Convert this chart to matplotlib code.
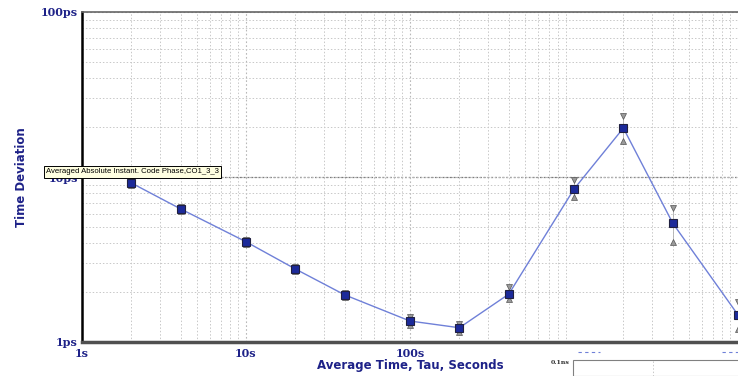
import matplotlib.pyplot as plt
from matplotlib.patches import Rectangle
from matplotlib.lines import Line2D

# averaging time (s) and time deviation (ps)
tau = [2, 4, 10, 20, 40, 100, 200, 400, 1000, 2000, 4000, 10000]
tdev = [9.2, 6.4, 4.05, 2.77, 1.93, 1.34, 1.22, 1.95, 8.45, 19.8, 5.25, 1.46]
tdev_hi = [9.4, 6.55, 4.15, 2.83, 1.98, 1.42, 1.28, 2.15, 9.6, 23.4, 6.5, 1.75]
tdev_lo = [9.0, 6.25, 3.95, 2.71, 1.88, 1.27, 1.15, 1.82, 7.55, 16.5, 4.05, 1.2]

yticks = [1, 10, 100]
ytick_labels = ["1ps", "10ps", "100ps"]
xticks = [1, 10, 100]
xtick_labels = ["1s", "10s", "100s"]

NAVY = "#1e2288"

fig = plt.figure(figsize=(7.38, 3.76), dpi=100)
ax = fig.add_axes([82 / 738, 34 / 376, 656 / 738, 330 / 376])

ax.set_xscale("log")
ax.set_yscale("log")
ax.set_xlim(1, 10000)
ax.set_ylim(1, 100)

# grid
ax.grid(which="major", color="#b8b8b8", linestyle=(0, (1.5, 2)), linewidth=0.8)
ax.grid(which="minor", color="#c8c8c8", linestyle=(0, (1.5, 2)), linewidth=0.7)
ax.axhline(10, color="#7a7a7a", linestyle=(0, (1.5, 1.5)), linewidth=0.9, zorder=1)

# error range
ax.vlines(tau, tdev_lo, tdev_hi, color="#b0b0b0", linewidth=0.6, zorder=2)
ax.plot(tau, tdev_hi, linestyle="none", marker="v", markersize=4.5,
        markerfacecolor="#9a9a9a", markeredgecolor="#555555", markeredgewidth=0.5,
        zorder=3, clip_on=False)
ax.plot(tau, tdev_lo, linestyle="none", marker="^", markersize=4.5,
        markerfacecolor="#9a9a9a", markeredgecolor="#555555", markeredgewidth=0.5,
        zorder=3, clip_on=False)

# main curve
ax.plot(tau, tdev, color="#6f80d8", linewidth=1.0, marker="s", markersize=6,
        markerfacecolor="#1c2a9a", markeredgecolor="#202040", markeredgewidth=0.8,
        zorder=4, clip_on=False)

# spines
ax.spines["right"].set_visible(False)
ax.spines["top"].set_color("#666666")
ax.spines["top"].set_linestyle((0, (2, 1)))
ax.spines["top"].set_linewidth(1.2)
ax.spines["left"].set_color("black")
ax.spines["left"].set_linewidth(1.8)
ax.spines["bottom"].set_color("#505050")
ax.spines["bottom"].set_linewidth(2.5)

ax.set_yticks(yticks)
ax.set_yticklabels(ytick_labels)
ax.set_xticks(xticks)
ax.set_xticklabels(xtick_labels)
ax.tick_params(which="both", length=0)
ax.tick_params(axis="y", pad=3)
ax.tick_params(axis="x", pad=4)
for lbl in ax.get_xticklabels() + ax.get_yticklabels():
    lbl.set_fontfamily("DejaVu Serif")
    lbl.set_fontweight("bold")
    lbl.set_fontsize(8)
    lbl.set_color(NAVY)

ax.set_xlabel("Average Time, Tau, Seconds", fontsize=8.5, fontweight="bold",
              color=NAVY, labelpad=0)
ax.set_ylabel("Time Deviation", fontsize=8.5, fontweight="bold",
              color=NAVY, labelpad=9)

# series tooltip
fig.text(46 / 738, 1 - 172 / 376, "Averaged Absolute Instant. Code Phase,CO1_3_3",
         family="Liberation Sans", fontsize=5.6, color="black", va="center", ha="left",
         bbox=dict(boxstyle="square,pad=0.3", facecolor="#ffffe1",
                   edgecolor="black", linewidth=0.7), zorder=10)

# neighbouring panel peeking in at the lower right
fig.patches.append(Rectangle((573 / 738, 0), 0.3, 16 / 376, transform=fig.transFigure,
                             facecolor="white", edgecolor="#808080", linewidth=0.8))
fig.lines.append(Line2D([653 / 738, 653 / 738], [0, 16 / 376], transform=fig.transFigure,
                        color="#c8c8c8", linestyle=(0, (1.5, 2)), linewidth=0.7))
fig.lines.append(Line2D([578 / 738, 600 / 738], [24 / 376, 24 / 376], transform=fig.transFigure,
                        color="#6f80d8", linestyle=(0, (3, 3)), linewidth=0.8))
fig.lines.append(Line2D([722 / 738, 738 / 738], [24 / 376, 24 / 376], transform=fig.transFigure,
                        color="#6f80d8", linestyle=(0, (3, 3)), linewidth=0.8))
fig.text(570 / 738, 1 - 363 / 376, "0.1ns", family="DejaVu Serif", fontweight="bold",
         fontsize=4.5, color="#333333", ha="right", va="center")

fig.savefig("out.png", dpi=100)
